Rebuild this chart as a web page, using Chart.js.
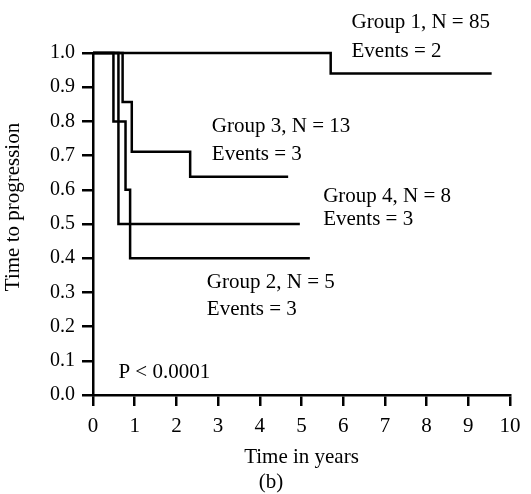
<!DOCTYPE html>
<html>
<head>
<meta charset="utf-8">
<script src="https://cdn.jsdelivr.net/npm/chart.js@4"></script>
<style>
    html, body { margin: 0; padding: 0; background: #fff; }
    #wrap { width: 531px; height: 494px; position: relative; }
</style>
</head>
<body>
<div id="wrap"><canvas id="km"></canvas></div>
<script>
// Kaplan-Meier curves (time in years / fraction without progression)
const g1Years = [0, 5.70, 9.56];
const g1Surv  = [1.0, 0.94, 0.94];
const g2Years = [0, 0.49, 0.78, 0.89, 5.20];
const g2Surv  = [1.0, 0.80, 0.60, 0.40, 0.40];
const g3Years = [0, 0.71, 0.93, 2.33, 4.68];
const g3Surv  = [1.0, 0.857, 0.711, 0.638, 0.638];
const g4Years = [0, 0.61, 4.96];
const g4Surv  = [1.0, 0.50, 0.50];

const groupNames = ['Group 1, N = 85', 'Group 2, N = 5', 'Group 3, N = 13', 'Group 4, N = 8'];
const eventCounts = [2, 3, 3, 3];
const pValueText = 'P < 0.0001';

const xTicks = [0, 1, 2, 3, 4, 5, 6, 7, 8, 9, 10];

const SERIF = "'Liberation Serif', 'Times New Roman', serif";

function toPoints(xs, ys) {
    return xs.map((x, i) => ({ x: x, y: ys[i] }));
}

function curve(label, xs, ys) {
    return {
        label: label,
        data: toPoints(xs, ys),
        borderColor: '#000',
        borderWidth: 2.5,
        pointRadius: 0,
        stepped: true,
        fill: false,
        clip: false
    };
}

// where each group's text sits, in axis units (left edge, baseline)
const labelSpots = [
    { group: 0, x: 6.20, y: 1.073, y2: 0.988 },
    { group: 2, x: 2.85, y: 0.769, y2: 0.687 },
    { group: 3, x: 5.52, y: 0.564, y2: 0.497 },
    { group: 1, x: 2.73, y: 0.313, y2: 0.234 }
];

const textPlugin = {
    id: 'kmText',
    afterDraw(chart) {
        const { ctx, scales: { x, y } } = chart;
        ctx.save();
        ctx.fillStyle = '#000';
        ctx.font = '21px ' + SERIF;
        ctx.textAlign = 'left';
        ctx.textBaseline = 'alphabetic';

        labelSpots.forEach(s => {
            const px = x.getPixelForValue(s.x);
            ctx.fillText(groupNames[s.group], px, y.getPixelForValue(s.y));
            ctx.fillText('Events = ' + eventCounts[s.group], px, y.getPixelForValue(s.y2));
        });
        ctx.fillText(pValueText, x.getPixelForValue(0.61), y.getPixelForValue(0.05));

        // panel letter
        ctx.textAlign = 'center';
        ctx.fillText('(b)', 271, 488);

        // y axis title (sits a bit above the axis centre in the original)
        ctx.translate(19, 207);
        ctx.rotate(-Math.PI / 2);
        ctx.fillText('Time to progression', 0, 0);
        ctx.restore();
    }
};

new Chart(document.getElementById('km'), {
    type: 'line',
    data: {
        datasets: [
            curve(groupNames[0], g1Years, g1Surv),
            curve(groupNames[1], g2Years, g2Surv),
            curve(groupNames[2], g3Years, g3Surv),
            curve(groupNames[3], g4Years, g4Surv)
        ]
    },
    options: {
        responsive: true,
        maintainAspectRatio: false,
        animation: false,
        layout: { padding: { left: 0, right: 21, top: 53, bottom: 0 } },
        plugins: {
            legend: { display: false },
            tooltip: { enabled: false }
        },
        scales: {
            x: {
                type: 'linear',
                min: 0,
                max: 10,
                afterFit: (scale) => { scale.height = 99; },
                afterBuildTicks: (scale) => { scale.ticks = xTicks.map(v => ({ value: v })); },
                border: { display: true, color: '#000', width: 2.5 },
                grid: {
                    drawOnChartArea: false,
                    drawTicks: true,
                    tickLength: 11,
                    color: '#000',
                    lineWidth: 2.5
                },
                ticks: {
                    color: '#000',
                    padding: 8,
                    maxRotation: 0,
                    font: { size: 21, family: SERIF }
                },
                title: {
                    display: true,
                    text: 'Time in years',
                    color: '#000',
                    padding: { top: 0, bottom: 24 },
                    font: { size: 21, family: SERIF }
                }
            },
            y: {
                type: 'linear',
                min: 0,
                max: 1,
                afterFit: (scale) => { scale.width = 93; },
                border: { display: true, color: '#000', width: 2.5 },
                grid: {
                    drawOnChartArea: false,
                    drawTicks: true,
                    tickLength: 11,
                    color: '#000',
                    lineWidth: 2.5
                },
                ticks: {
                    stepSize: 0.1,
                    color: '#000',
                    padding: 7,
                    font: { size: 20, family: SERIF },
                    callback: (value) => value.toFixed(1)
                }
            }
        }
    },
    plugins: [textPlugin]
});
</script>
</body>
</html>
